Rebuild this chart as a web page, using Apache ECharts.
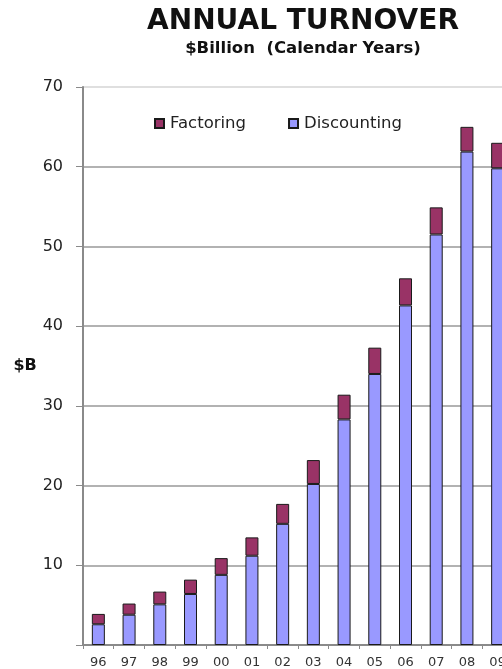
<!DOCTYPE html>
<html>
<head>
<meta charset="utf-8">
<script src="https://cdn.jsdelivr.net/npm/echarts@6/dist/echarts.min.js"></script>
<style>
  html, body { margin: 0; padding: 0; background: #fff; overflow: hidden; }
  /* the plot runs a little past the right edge of the page */
  #chart { width: 513px; height: 669px; }
</style>
</head>
<body>
<div id="chart"></div>
<script>
// Calendar years (two-digit)
const years = ['96', '97', '98', '99', '00', '01', '02', '03', '04', '05', '06', '07', '08', '09'];

// Annual turnover, $ billion
const discounting = [2.6, 3.8, 5.1, 6.4, 8.8, 11.2, 15.2, 20.2, 28.3, 34.0, 42.6, 51.5, 61.9, 59.8];
const factoring   = [1.3, 1.4, 1.6, 1.8, 2.1, 2.3, 2.5, 3.0, 3.1, 3.3, 3.4, 3.4, 3.1, 3.2];

// Value axis range
const yMin = 0;
const yMax = 70;
const yStep = 10;

const FONT = 'DejaVu Sans';

const chart = echarts.init(document.getElementById('chart'), null, { renderer: 'canvas' });

chart.setOption({
  animation: false,
  backgroundColor: '#ffffff',
  title: {
    text: 'ANNUAL TURNOVER',
    subtext: '$Billion  (Calendar Years)',
    left: 298,
    textAlign: 'center',
    top: 3,
    itemGap: 4,
    textStyle: { fontFamily: FONT, fontWeight: 'bold', fontSize: 28, color: '#111' },
    subtextStyle: { fontFamily: FONT, fontWeight: 'bold', fontSize: 16.5, color: '#111' }
  },
  legend: {
    data: ['Factoring', 'Discounting'],
    left: 149,
    top: 110,
    icon: 'rect',
    itemWidth: 9,
    itemHeight: 9,
    itemGap: 42,
    textStyle: { fontFamily: FONT, fontSize: 16.5, color: '#222', padding: [0, 0, 0, 1] }
  },
  grid: {
    left: 83,
    top: 87,
    right: 0,
    height: 561,
    containLabel: false
  },
  xAxis: {
    type: 'category',
    data: years,
    axisLine: { lineStyle: { color: '#8a8a8a', width: 2 } },
    axisTick: { show: true, length: 4, lineStyle: { color: '#8a8a8a', width: 1 } },
    axisLabel: { fontFamily: FONT, fontSize: 13, color: '#333', margin: 11 },
    splitLine: { show: false }
  },
  yAxis: {
    type: 'value',
    min: yMin,
    max: yMax,
    interval: yStep,
    name: '$B',
    nameLocation: 'middle',
    nameRotate: 0,
    nameGap: 45,
    nameTextStyle: { fontFamily: FONT, fontWeight: 'bold', fontSize: 16, color: '#111', padding: [12, 0, 0, 0] },
    axisLine: { show: true, lineStyle: { color: '#8a8a8a', width: 2 } },
    axisTick: { show: true, length: 7, lineStyle: { color: '#8a8a8a', width: 1 } },
    axisLabel: {
      fontFamily: FONT,
      fontSize: 16,
      color: '#222',
      margin: 20,
      formatter: v => (v === 0 ? '' : String(v))
    },
    splitLine: {
      show: true,
      lineStyle: {
        color: ['#999', '#999', '#999', '#999', '#999', '#999', '#999', '#d4d4d4'],
        width: 1.5
      }
    }
  },
  series: [
    {
      name: 'Discounting',
      type: 'bar',
      stack: 'turnover',
      data: discounting,
      barWidth: 13,
      itemStyle: { color: '#9999FF', borderColor: '#1a1a1a', borderWidth: 1 }
    },
    {
      name: 'Factoring',
      type: 'bar',
      stack: 'turnover',
      data: factoring,
      barWidth: 13,
      itemStyle: { color: '#993366', borderColor: '#1a1a1a', borderWidth: 1 }
    }
  ]
});
</script>
</body>
</html>
